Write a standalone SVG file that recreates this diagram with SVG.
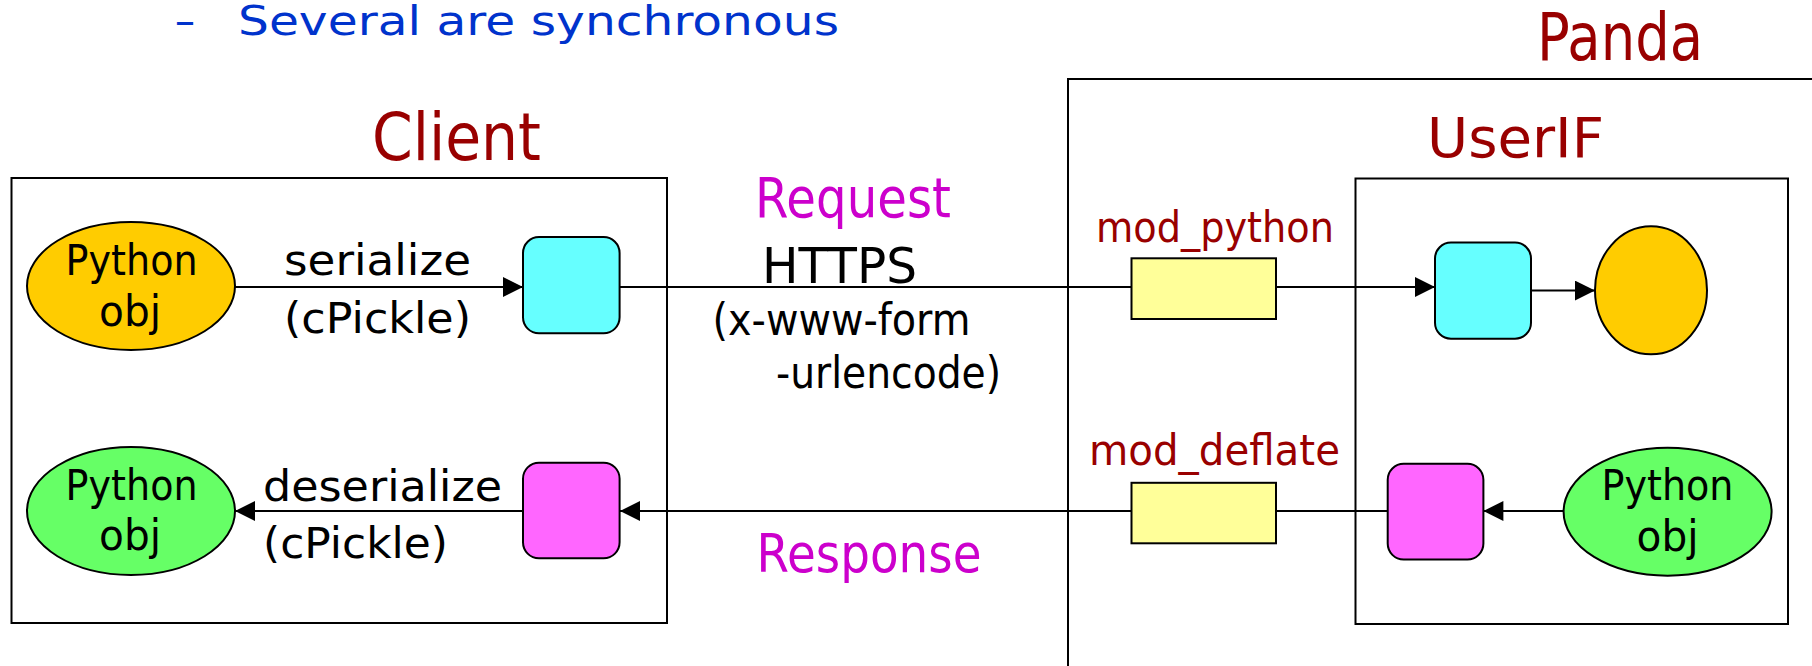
<svg xmlns="http://www.w3.org/2000/svg" width="1812" height="666" viewBox="0 0 1812 666">
<style>
  text { font-family: "DejaVu Sans", "Liberation Sans", sans-serif; }
  .frame { fill: none; stroke: #000; stroke-width: 2; }
  .box { stroke: #000; stroke-width: 2; }
  .conn { stroke: #000; stroke-width: 2; fill: none; }
  .lbl { font-size: 43px; fill: #000; }
  .red { fill: #990000; }
  .mag { fill: #cc00cc; }
  .cyan { fill: #66ffff; }
  .pink { fill: #ff66ff; }
  .orange { fill: #ffcc00; }
  .green { fill: #66ff66; }
  .yellow { fill: #ffff99; }
</style>
<defs>
  <marker id="arr" viewBox="0 0 10 10" refX="10" refY="5" markerWidth="21" markerHeight="20" markerUnits="userSpaceOnUse" orient="auto">
    <path d="M0,0 L10,5 L0,10 Z" fill="#000"/>
  </marker>
</defs>
<rect width="1812" height="666" fill="#fff"/>

<text font-size="40" fill="#0033cc"><tspan x="175" y="35" textLength="20" lengthAdjust="spacingAndGlyphs">–</tspan><tspan x="238" y="35" textLength="601" lengthAdjust="spacingAndGlyphs">Several are synchronous</tspan></text>

<g id="panda">
  <rect class="frame" x="1068" y="79" width="800" height="700"/>
  <text class="red" x="1537" y="59.5" font-size="66" textLength="166" lengthAdjust="spacingAndGlyphs">Panda</text>
</g>
<g id="client">
  <rect class="frame" x="11.5" y="178" width="655.5" height="445"/>
  <text class="red" x="372" y="159.5" font-size="65" textLength="169" lengthAdjust="spacingAndGlyphs">Client</text>
</g>
<g id="userif">
  <rect class="frame" x="1355.5" y="178.5" width="432.5" height="445.5"/>
  <text class="red" x="1427" y="156.6" font-size="56" textLength="177" lengthAdjust="spacingAndGlyphs">UserIF</text>
</g>

<g id="connectors">
  <line class="conn" x1="235" y1="287" x2="523" y2="287" marker-end="url(#arr)"/>
  <line class="conn" x1="620" y1="287" x2="1435" y2="287" marker-end="url(#arr)"/>
  <line class="conn" x1="1531" y1="290.6" x2="1595" y2="290.6" marker-end="url(#arr)"/>
  <line class="conn" x1="1388" y1="511" x2="620" y2="511" marker-end="url(#arr)"/>
  <line class="conn" x1="1563.6" y1="511" x2="1483.4" y2="511" marker-end="url(#arr)"/>
  <line class="conn" x1="523" y1="511" x2="235" y2="511" marker-end="url(#arr)"/>
  <text class="lbl" x="284" y="275" textLength="187" lengthAdjust="spacingAndGlyphs">serialize</text>
  <text class="lbl" x="284" y="333" textLength="187" lengthAdjust="spacingAndGlyphs">(cPickle)</text>
  <text class="lbl" x="263" y="500.7" textLength="239" lengthAdjust="spacingAndGlyphs">deserialize</text>
  <text class="lbl" x="263" y="558" textLength="185" lengthAdjust="spacingAndGlyphs">(cPickle)</text>
  <text class="mag" x="755" y="216.7" font-size="55" textLength="196" lengthAdjust="spacingAndGlyphs">Request</text>
  <text x="762" y="282.7" font-size="50" fill="#000" textLength="155" lengthAdjust="spacingAndGlyphs">HTTPS</text>
  <text x="712.5" y="335" font-size="45" fill="#000" textLength="258" lengthAdjust="spacingAndGlyphs">(x-www-form</text>
  <text x="776" y="388" font-size="45" fill="#000" textLength="225" lengthAdjust="spacingAndGlyphs">-urlencode)</text>
  <text class="mag" x="756.5" y="571.7" font-size="54" textLength="225" lengthAdjust="spacingAndGlyphs">Response</text>
</g>

<g id="client-obj-out">
  <ellipse class="box orange" cx="131" cy="286" rx="104" ry="64"/>
  <text class="lbl" x="65.6" y="275" textLength="132" lengthAdjust="spacingAndGlyphs">Python</text>
  <text class="lbl" x="99" y="325.7" textLength="62" lengthAdjust="spacingAndGlyphs">obj</text>
</g>
<g id="client-obj-in">
  <ellipse class="box green" cx="131" cy="511" rx="104" ry="64"/>
  <text class="lbl" x="65.6" y="500" textLength="132" lengthAdjust="spacingAndGlyphs">Python</text>
  <text class="lbl" x="99" y="550" textLength="62" lengthAdjust="spacingAndGlyphs">obj</text>
</g>
<g id="client-req"><rect class="box cyan" x="523" y="237" width="96.6" height="96.3" rx="16"/></g>
<g id="client-resp"><rect class="box pink" x="523" y="462.7" width="96.6" height="95.6" rx="16"/></g>

<g id="mod-python">
  <rect class="box yellow" x="1131.5" y="258.3" width="144.5" height="60.7"/>
  <text class="red" x="1096" y="242" font-size="43" textLength="238" lengthAdjust="spacingAndGlyphs">mod_python</text>
</g>
<g id="mod-deflate">
  <rect class="box yellow" x="1131.5" y="482.8" width="144.5" height="60.5"/>
  <text class="red" x="1089" y="465" font-size="43" textLength="251" lengthAdjust="spacingAndGlyphs">mod_deflate</text>
</g>

<g id="server-req"><rect class="box cyan" x="1435" y="242.5" width="96" height="96.2" rx="16"/></g>
<g id="server-obj-in"><ellipse class="box orange" cx="1651" cy="290.3" rx="56" ry="64"/></g>
<g id="server-resp"><rect class="box pink" x="1387.7" y="463.8" width="95.7" height="95.8" rx="16"/></g>
<g id="server-obj-out">
  <ellipse class="box green" cx="1667.6" cy="511.7" rx="104" ry="64"/>
  <text class="lbl" x="1601.5" y="500" textLength="132" lengthAdjust="spacingAndGlyphs">Python</text>
  <text class="lbl" x="1636.5" y="551" textLength="62" lengthAdjust="spacingAndGlyphs">obj</text>
</g>
</svg>
